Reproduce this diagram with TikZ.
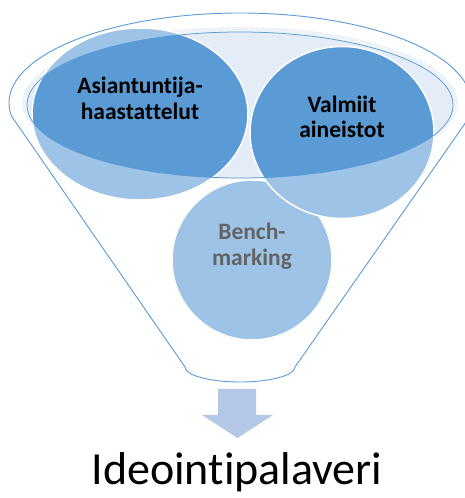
\documentclass[tikz,border=0pt]{standalone}
\usepackage{fontspec}
\setmainfont{Carlito}[Ligatures=NoCommon]
\usetikzlibrary{calc,shapes.geometric}
\definecolor{fblue}{HTML}{5B9BD5}
\definecolor{lblue}{HTML}{9DC3E6}
\definecolor{pale}{HTML}{E4ECF7}
\definecolor{glow}{HTML}{EEF3FA}
\definecolor{arrowc}{HTML}{B4C7E7}
\definecolor{gtext}{HTML}{636363}
\begin{document}
\begin{tikzpicture}[x=1pt,y=1pt,
  outline/.style={draw=fblue,line width=0.9pt},
  bubble/.style={ellipse, draw=white, line width=1.5pt, fill=lblue, inner sep=0pt,
    align=center, font=\fontsize{23.5}{25.5}\selectfont\bfseries,
    text height=16pt, text depth=5pt,
    path picture={\fill[fblue] (inner) ellipse[x radius=213,y radius=73];}},
]
\useasboundingbox (0,0) rectangle (465,498);
\coordinate (top) at (240,395);
\coordinate (inner) at (240,393);
% funnel body
\draw[outline, fill=white] ($(top)+(188.3:231 and 90)$)
  arc[start angle=188.3, end angle=-14.15, x radius=231, y radius=90]
  -- (295,131) arc[start angle=0, end angle=-180, x radius=55, y radius=15] -- cycle;
% inner ellipse
\fill[glow] (240,395) ellipse[x radius=218, y radius=76];
\fill[pale] (inner) ellipse[x radius=213, y radius=73];
% bubbles
\node[bubble, minimum width=160, minimum height=160, text=gtext] (bench) at (252,238) {Bench-\\marking};
\node[bubble, minimum width=216, minimum height=172] (asi) at (140,384) {Asiantuntija-\\haastattelut};
\node[bubble, minimum width=184, minimum height=172] (val) at (342,365.5) {Valmiit\\aineistot};
% inner ellipse outline on top
\draw[outline, line width=0.75pt] (inner) ellipse[x radius=213, y radius=73];
% arrow
\fill[arrowc] (218,109) -- (256,109) -- (256,83) -- (273,83) -- (237.5,60) -- (202,83) -- (218,83) -- cycle;
% result text
\node[font=\fontsize{46}{56}\selectfont, anchor=base, inner sep=0pt] (idea) at (237,13) {Ideointipalaveri};
\end{tikzpicture}
\end{document}
